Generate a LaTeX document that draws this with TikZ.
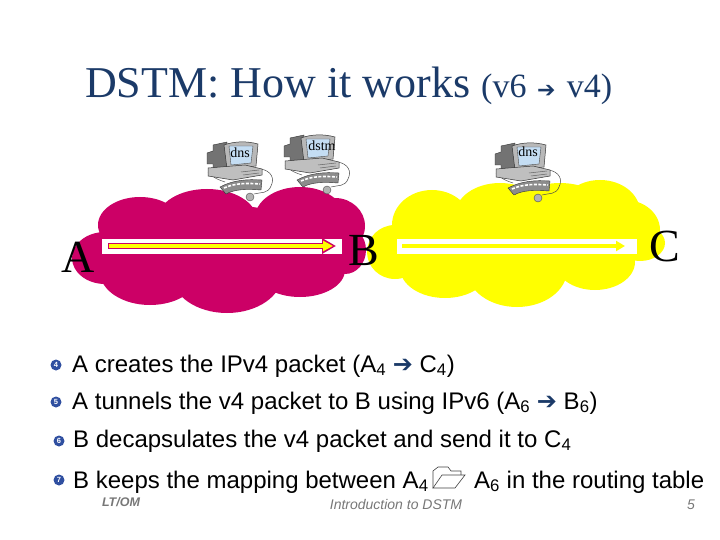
\documentclass[tikz,border=0pt]{standalone}
\usepackage{fontspec}
\setmainfont{Liberation Serif}
\setsansfont{Liberation Sans}
\newfontfamily\symfont{DejaVu Sans}
\usetikzlibrary{positioning, arrows.meta}

\definecolor{titlenavy}{HTML}{1B3A68}
\definecolor{cloudred}{HTML}{CC0066}
\definecolor{cloudyellow}{HTML}{FFFF00}
\definecolor{bulletblue}{HTML}{2F4FA0}
\definecolor{screenblue}{HTML}{C4DDF3}
\definecolor{footgray}{HTML}{777777}

\newcommand{\thinarrow}{{\symfont\color{titlenavy}\char"2794}}
\newcommand{\desktoptext}{}

\tikzset{
	bodyline/.style={anchor=base west, inner sep=0pt, font=\sffamily\fontsize{24}{26}\selectfont},
	bullet/.style={circle, fill=bulletblue, text=white, inner sep=0pt, minimum size=11pt, font=\sffamily\bfseries\fontsize{7.5}{8}\selectfont},
	netname/.style={anchor=base, inner sep=0pt, font=\fontsize{46}{50}\selectfont},
	foot/.style={anchor=base, inner sep=0pt, text=footgray, font=\sffamily\itshape\fontsize{14}{16}\selectfont},
	tunnel/.style={fill=white, minimum width=240pt, minimum height=15pt, inner sep=0pt},
	pics/desktop/.style={code={
		% cable and mouse
		\draw[black!70, line width=0.5pt] (56,27) .. controls (66,29) and (70,36) .. (66,44) .. controls (63,52) and (56,50) .. (49,52);
		\draw[black!70, line width=0.5pt] (3,30) .. controls (8,36) and (14,38) .. (20,40);
		\draw[black!70, fill=black!30, line width=0.4pt] (45,55) ellipse (4pt and 4pt);
		% box behind the screen
		\draw[black!80, fill=black!55, line width=0.4pt] (2,11) -- (8,9) -- (8,3) -- (22,0) -- (22,27) -- (8,26) -- (8,22) -- (2,22) -- cycle;
		% screen
		\draw[black!80, fill=black!28, line width=0.5pt] (19,3) .. controls (30,-1) and (42,-1) .. (53,2) -- (51,24) -- (22,27) -- cycle;
		\draw[black!70, fill=screenblue, line width=0.4pt] (24,4) -- (48,4) -- (46,21) -- (26,23) -- cycle;
		% base and keyboard
		\draw[black!80, fill=black!25, line width=0.5pt] (3,26) -- (40,23) -- (57,27) -- (57,33) -- (28,38) -- (3,34) -- cycle;
		\draw[black!60, line width=0.5pt] (36,30) -- (54,28) (38,33) -- (54,31);
		\draw[black!80, fill=black!45, line width=0.4pt] (15,45) .. controls (28,38) and (42,37) .. (57,38) -- (56,48) .. controls (42,47) and (30,47) .. (21,52) -- cycle;
		\draw[white, line width=1.6pt, dash pattern=on 3pt off 1.5pt] (19,46) .. controls (30,41) and (42,41) .. (55,42);
		\node[inner sep=0pt, font=\fontsize{14}{14}\selectfont] (-label) at (#1) {\desktoptext};
	}},
}

\begin{document}
\begin{tikzpicture}[x=1pt, y=-1pt, >=Stealth]
	\useasboundingbox (0,0) rectangle (720,540);

	\node[anchor=base west, inner sep=0pt, text=titlenavy, font=\fontsize{44}{48}\selectfont] (title) at (85,98) {DSTM: How it works};
	\node[anchor=base west, inner sep=0pt, text=titlenavy, font=\fontsize{34}{36}\selectfont] (subtitle) at (481,98) {(v6 \hspace{2pt}{\fontsize{22}{22}\selectfont\thinarrow}\hspace{3pt} v4)};

	% the two clouds
	\fill[cloudyellow] (395,252) ellipse (28pt and 27pt) (432,225) ellipse (40pt and 35pt) (500,215) ellipse (45pt and 32pt) (560,215) ellipse (50pt and 32pt) (600,212) ellipse (40pt and 32pt) (625,230) ellipse (35pt and 30pt) (640,243) ellipse (25pt and 18pt) (595,262) ellipse (40pt and 28pt) (517,270) ellipse (50pt and 37pt) (445,268) ellipse (45pt and 30pt) (515,240) ellipse (100pt and 40pt);
	\fill[cloudred] (105,258) ellipse (33pt and 26pt) (140,225) ellipse (42pt and 28pt) (207,220) ellipse (50pt and 31pt) (300,218) ellipse (45pt and 31pt) (335,226) ellipse (30pt and 28pt) (345,250) ellipse (21pt and 24pt) (300,270) ellipse (45pt and 27pt) (227,275) ellipse (55pt and 38pt) (150,272) ellipse (50pt and 33pt) (220,250) ellipse (110pt and 45pt);

	\node[tunnel] (tunnela) at (222,246) {};
	\node[tunnel] (tunnelb) at (516.5,246) {};

	\coordinate (a1) at (108,246);
	\coordinate (a2) at (336,246);
	\coordinate (b1) at (402,246);
	\coordinate (b2) at (625,246);

	\draw[-{Stealth[length=14pt, width=15pt, inset=0pt]}, cloudred, line width=6.5pt] (a1) -- (a2);
	\draw[-{Stealth[length=10pt, width=10pt, inset=0pt]}, cloudyellow, line width=3.5pt] ([xshift=1pt]a1) -- ([xshift=-3pt]a2);
	\draw[-{Stealth[length=9pt, width=10pt, inset=0pt]}, cloudyellow, line width=4pt] (b1) -- (b2);

	\node[netname] (A) at (78,272) {A};
	\node[netname] (B) at (364,265) {B};
	\node[netname] (C) at (665,261) {C};

	% computers
	\renewcommand{\desktoptext}{dns}
	\pic (dnsa) at (205,142) {desktop={35,11}};
	\renewcommand{\desktoptext}{dstm}
	\pic (dstm) at (282,135) {desktop={40,11}};
	\renewcommand{\desktoptext}{dns}
	\pic (dnsb) at (493,143) {desktop={35,9}};

	% bullet list
	\node[bodyline] (linea) at (72,372) {A creates the IPv4 packet (A\textsubscript{4} \thinarrow{} C\textsubscript{4})};
	\node[bodyline] (lineb) at (72,409) {A tunnels the v4 packet to B using IPv6 (A\textsubscript{6} \thinarrow{} B\textsubscript{6})};
	\node[bodyline] (linec) at (73,447) {B decapsulates the v4 packet and send it to C\textsubscript{4}};
	\node[bodyline] (lined) at (73,488) {B keeps the mapping between A\textsubscript{4}};
	\node[bodyline] (linee) at (474,488) {A\textsubscript{6} in the routing table};

	\node[bullet] (n4) at (56,365) {4};
	\node[bullet] (n5) at (56,402) {5};
	\node[bullet] (n6) at (59,441) {6};
	\node[bullet] (n7) at (59,480) {7};

	% folder between the two addresses
	\draw[black!75, line width=0.6pt] (433,488) -- (433,471) -- (438,467) -- (448,467) -- (451,471) -- (461,471) -- (461,475);
	\draw[black!75, fill=white, line width=0.6pt] (433,488) -- (442,475) -- (465,475) -- (455,488) -- cycle;

	% footer
	\node[foot, font=\sffamily\itshape\bfseries\fontsize{12.5}{14}\selectfont] (author) at (121,506) {LT/OM};
	\node[foot] (topic) at (396,509) {Introduction to DSTM};
	\node[foot] (page) at (691,509) {5};
\end{tikzpicture}
\end{document}
